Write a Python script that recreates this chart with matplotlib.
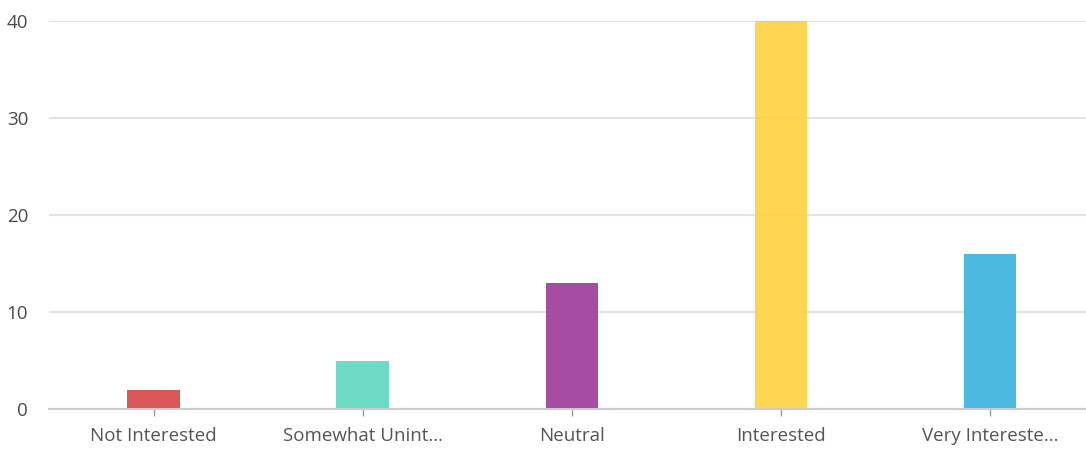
import matplotlib.pyplot as plt

# survey answers and counts
categories = ['Not Interested', 'Somewhat Unint...', 'Neutral', 'Interested', 'Very Intereste...']
counts = [2, 5, 13, 40, 16]
colors = ['#d64546', '#5dd6bd', '#9a3a98', '#ffd23f', '#38b2de']

yticks = [0, 10, 20, 30, 40]

plt.rcParams['font.family'] = ['Open Sans', 'DejaVu Sans']

fig = plt.figure(figsize=(10.86, 4.51), dpi=100)
ax = fig.add_axes([49 / 1086, 1 - 409 / 451, 1 - 49 / 1086, (409 - 21) / 451])

x = list(range(len(categories)))
ax.bar(x, counts, width=0.25, color=colors, alpha=0.9, zorder=3)

ax.set_xlim(-0.5, 4.46)
ax.set_ylim(0, 40)
ax.set_yticks(yticks)
ax.set_xticks(x)
ax.set_xticklabels(categories)

ax.grid(axis='y', color='#e3e3e3', linewidth=1.5, zorder=0)
for s in ['top', 'right', 'left']:
    ax.spines[s].set_visible(False)
ax.spines['bottom'].set_color('#cccccc')
ax.spines['bottom'].set_linewidth(1.5)
ax.spines['bottom'].set_zorder(4)

ax.tick_params(axis='y', length=0, pad=15, labelsize=13.5, labelcolor='#4a4a4a')
ax.tick_params(axis='x', length=5, width=1, color='#999999', pad=8,
               labelsize=13.5, labelcolor='#555555')
for lbl in ax.get_yticklabels():
    lbl.set_clip_on(False)

fig.savefig('out.png', dpi=100)
